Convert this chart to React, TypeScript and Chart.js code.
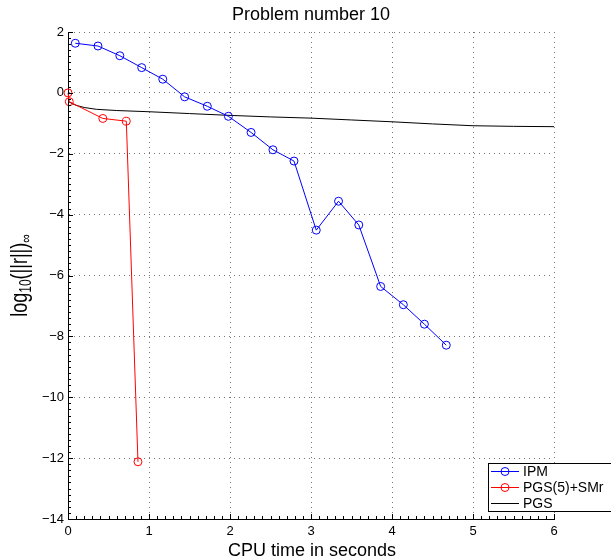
import React, { useEffect, useRef } from 'react';
import { Chart, registerables } from 'chart.js';

Chart.register(...registerables);

// ---- data ----
const ipmX = [0.09, 0.37, 0.64, 0.91, 1.17, 1.44, 1.72, 1.98, 2.26, 2.53, 2.79, 3.065, 3.34, 3.59, 3.86, 4.14, 4.4, 4.67];
const ipmY = [1.63, 1.54, 1.22, 0.83, 0.45, -0.13, -0.44, -0.77, -1.3, -1.87, -2.24, -4.51, -3.56, -4.34, -6.36, -6.96, -7.6, -8.29];

const smrX = [0, 0.016, 0.43, 0.72, 0.864];
const smrY = [0, -0.29, -0.84, -0.93, -12.12];

const pgsX = [0, 0.05, 0.1, 0.2, 0.35, 0.6, 1, 1.5, 2, 2.5, 3, 3.5, 4, 4.5, 5, 5.5, 6];
const pgsY = [-0.28, -0.35, -0.41, -0.48, -0.54, -0.58, -0.62, -0.68, -0.74, -0.79, -0.83, -0.89, -0.95, -1.02, -1.08, -1.1, -1.11];

const xTicks = [0, 1, 2, 3, 4, 5, 6];
const yTicks = [2, 0, -2, -4, -6, -8, -10, -12, -14];

const seriesLabels = ['IPM', 'PGS(5)+SMr', 'PGS'];
const seriesColors = ['#0000ff', '#ff0000', '#000000'];
const seriesMarkers = [true, true, false];

const titleText = 'Problem number 10';
const xLabelText = 'CPU time in seconds';

const FONT = '"Liberation Sans", Arial, Helvetica, sans-serif';

const fmt = (v: number) => (v < 0 ? '\u2212' + Math.abs(v) : String(v));

const decoPlugin = {
  id: 'deco',
  afterDraw(chart: any) {
    const { ctx, chartArea: ca, scales } = chart;
    const xs = scales.x;
    const ys = scales.y;
    ctx.save();
    // minor + major ticks (inward)
    ctx.strokeStyle = '#000';
    ctx.lineWidth = 1;
    ctx.beginPath();
    for (let i = 0; i <= 60; i++) {
      const px = Math.round(xs.getPixelForValue(i / 10)) + 0.5;
      const len = i % 10 === 0 ? 5 : 3;
      ctx.moveTo(px, ca.bottom);
      ctx.lineTo(px, ca.bottom - len);
    }
    for (let i = 0; i <= 80; i++) {
      const py = Math.round(ys.getPixelForValue(-14 + i * 0.2)) + 0.5;
      const len = i % 10 === 0 ? 5 : 3;
      ctx.moveTo(ca.left, py);
      ctx.lineTo(ca.left + len, py);
    }
    ctx.stroke();

    // title
    ctx.fillStyle = '#000';
    ctx.textAlign = 'center';
    ctx.textBaseline = 'alphabetic';
    const cx = (ca.left + ca.right) / 2;
    ctx.font = `18px ${FONT}`;
    ctx.fillText(titleText, cx, 20);
    // x label
    ctx.fillText(xLabelText, cx + 1, 556);

    // y label with subscripts
    const segs = [
      { t: 'log', f: 18, dy: 0 },
      { t: '10', f: 12, dy: 3 },
      { t: '(||r||)', f: 18, dy: 0 },
      { t: '\u221E', f: 12, dy: 3 },
    ];
    let total = 0;
    const widths: number[] = [];
    for (const s of segs) {
      ctx.font = `${s.f}px ${FONT}`;
      const w = ctx.measureText(s.t).width;
      widths.push(w);
      total += w;
    }
    ctx.save();
    ctx.translate(27, (ca.top + ca.bottom) / 2);
    ctx.rotate(-Math.PI / 2);
    ctx.scale(1, 1.3);
    ctx.textAlign = 'left';
    let xpos = -total / 2;
    segs.forEach((s, i) => {
      ctx.font = `${s.f}px ${FONT}`;
      ctx.fillText(s.t, xpos, s.dy);
      xpos += widths[i];
    });
    ctx.restore();

    // legend
    const lx = 488.5;
    const ly = 463.5;
    const lw = 140;
    const lh = 48;
    ctx.fillStyle = '#fff';
    ctx.fillRect(lx, ly, lw, lh);
    ctx.strokeStyle = '#000';
    ctx.lineWidth = 1;
    ctx.strokeRect(lx, ly, lw, lh);
    const rows = [471, 487, 503];
    ctx.font = `14px ${FONT}`;
    ctx.textAlign = 'left';
    ctx.textBaseline = 'middle';
    seriesLabels.forEach((lab, i) => {
      const ry = rows[i] + 0.5;
      ctx.strokeStyle = seriesColors[i];
      ctx.beginPath();
      ctx.moveTo(491, ry);
      ctx.lineTo(519, ry);
      ctx.stroke();
      if (seriesMarkers[i]) {
        ctx.beginPath();
        ctx.arc(505, ry, 4, 0, Math.PI * 2);
        ctx.stroke();
      }
      ctx.fillStyle = '#000';
      ctx.fillText(lab, 523, rows[i] + 1);
    });
    ctx.restore();
  },
};

export default function App() {
  const ref = useRef<HTMLCanvasElement | null>(null);
  useEffect(() => {
    if (!ref.current) return;
    const mk = (xsArr: number[], ysArr: number[]) => xsArr.map((x, i) => ({ x, y: ysArr[i] }));
    const datasets = [
      { label: seriesLabels[0], data: mk(ipmX, ipmY), idx: 0 },
      { label: seriesLabels[1], data: mk(smrX, smrY), idx: 1 },
      { label: seriesLabels[2], data: mk(pgsX, pgsY), idx: 2 },
    ].map((d) => ({
      label: d.label,
      data: d.data,
      showLine: true,
      borderColor: seriesColors[d.idx],
      backgroundColor: 'rgba(0,0,0,0)',
      borderWidth: 1,
      tension: 0,
      pointRadius: seriesMarkers[d.idx] ? 4 : 0,
      pointBorderColor: seriesColors[d.idx],
      pointBackgroundColor: 'rgba(0,0,0,0)',
      pointBorderWidth: 1,
      clip: false as any,
    }));
    const tickFont = { family: FONT, size: 13 };
    const chart = new Chart(ref.current, {
      type: 'scatter',
      data: { datasets },
      options: {
        animation: false,
        responsive: false,
        devicePixelRatio: 1,
        events: [],
        layout: { padding: { left: 0, top: 32, right: 57, bottom: 0 } },
        plugins: {
          legend: { display: false },
          title: { display: false },
          tooltip: { enabled: false },
        },
        scales: {
          x: {
            type: 'linear',
            min: 0,
            max: 6,
            afterBuildTicks: (s: any) => {
              s.ticks = xTicks.map((v) => ({ value: v }));
            },
            afterFit: (s: any) => {
              s.height = 40;
            },
            grid: { color: '#777', lineWidth: 1, drawTicks: false },
            border: { display: true, color: '#000', width: 1, dash: [1, 4] },
            ticks: { font: tickFont, color: '#000', padding: 5, maxRotation: 0, autoSkip: false, callback: (v: any) => fmt(Number(v)) },
          },
          y: {
            type: 'linear',
            min: -14,
            max: 2,
            afterBuildTicks: (s: any) => {
              s.ticks = yTicks.map((v) => ({ value: v }));
            },
            afterFit: (s: any) => {
              s.width = 68;
            },
            grid: { color: '#777', lineWidth: 1, drawTicks: false },
            border: { display: true, color: '#000', width: 1, dash: [1, 4] },
            ticks: { font: tickFont, color: '#000', padding: 4, autoSkip: false, callback: (v: any) => fmt(Number(v)) },
          },
        },
      },
      plugins: [decoPlugin],
    } as any);
    return () => chart.destroy();
  }, []);
  return (
    <div style={{ position: 'fixed', left: 0, top: 0, width: 611, height: 559, background: '#fff' }}>
      <canvas ref={ref} width={611} height={559} style={{ display: 'block' }} />
    </div>
  );
}
